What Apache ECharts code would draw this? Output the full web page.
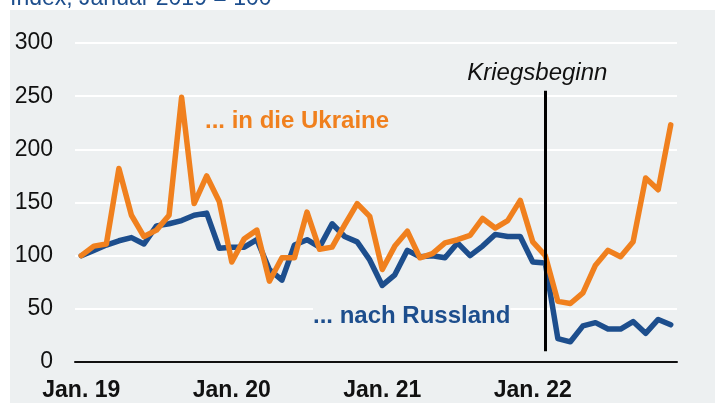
<!DOCTYPE html>
<html>
<head>
<meta charset="utf-8">
<script src="https://cdn.jsdelivr.net/npm/echarts@6/dist/echarts.min.js"></script>
<style>
html,body{margin:0;padding:0;background:#ffffff;}
#chart{width:715px;height:403px;}
</style>
</head>
<body>
<div id="chart"></div>
<script>
const months = [
  '2019-01','2019-02','2019-03','2019-04','2019-05','2019-06','2019-07','2019-08','2019-09','2019-10','2019-11','2019-12',
  '2020-01','2020-02','2020-03','2020-04','2020-05','2020-06','2020-07','2020-08','2020-09','2020-10','2020-11','2020-12',
  '2021-01','2021-02','2021-03','2021-04','2021-05','2021-06','2021-07','2021-08','2021-09','2021-10','2021-11','2021-12',
  '2022-01','2022-02','2022-03','2022-04','2022-05','2022-06','2022-07','2022-08','2022-09','2022-10','2022-11','2022-12'
];
const tickLabels = {'2019-01':'Jan. 19','2020-01':'Jan. 20','2021-01':'Jan. 21','2022-01':'Jan. 22'};
const ukraine = [100,109,111,182,138,118,124,138,249,149,175,151,
  94,116,124,76,98,98,141,106,108,129,149,137,
  87,109,123,98,102,112,115,119,135,126,133,152,
  113,100,57,55,65,91,105,99,113,173,162,223];
const russland = [100,105,110,114,117,111,128,130,133,138,140,107,
  108,108,115,87,77,110,115,108,130,118,113,96,
  72,82,105,99,100,98,112,100,109,120,118,118,
  94,93,22,19,34,37,31,31,38,27,40,35];
const yTicks = [0,50,100,150,200,250,300];
const warMonth = '2022-02';
const warLineRange = [10, 255];
const titleText = 'Index, Januar 2019 = 100';
const labelUkraine = '... in die Ukraine';
const labelRussland = '... nach Russland';
const warLabel = 'Kriegsbeginn';

const FONT = 'Liberation Sans, Arial, sans-serif';
const ORANGE = '#f0801e';
const BLUE = '#1d4e8d';
const BG = '#edf0f1';

const chart = echarts.init(document.getElementById('chart'));
chart.setOption({
  animation: false,
  backgroundColor: '#ffffff',
  textStyle: {fontFamily: FONT},
  graphic: [
    {type:'rect', z:-100, shape:{x:10,y:10,width:705,height:393}, style:{fill:BG}},
    {type:'text', left:10, top:-13, style:{text:titleText, fill:BLUE, font:'23px ' + FONT}},
    {type:'text', left:205, top:109, z:50, style:{text:labelUkraine, fill:ORANGE, font:'bold 24px ' + FONT}},
    {type:'text', left:313, top:303, z:50, style:{text:labelRussland, fill:BLUE, font:'bold 24px ' + FONT, backgroundColor:BG, padding:[1,0,0,0]}}
  ],
  grid: {left:75, right:38, top:43, bottom:41, containLabel:false},
  xAxis: {
    type:'category',
    data: months,
    boundaryGap: true,
    axisLine: {show:true, onZero:true, lineStyle:{color:'#111111', width:2}},
    axisTick: {show:false},
    splitLine: {show:false},
    axisLabel: {
      interval: 0,
      formatter: v => tickLabels[v] || '',
      color:'#111111', fontWeight:'bold', fontSize:23, fontFamily:FONT, margin:17
    }
  },
  yAxis: {
    type:'value', min:yTicks[0], max:yTicks[yTicks.length-1], interval:50,
    axisLine:{show:false}, axisTick:{show:false},
    axisLabel:{color:'#111111', fontSize:23, fontFamily:FONT, margin:22},
    splitLine:{show:true, lineStyle:{color:'#ffffff', width:2}}
  },
  series: [
    {
      type:'line', name:'Russland', data:russland, symbol:'none',
      lineStyle:{color:BLUE, width:5.5, cap:'round', join:'round'}, z:3,
      markLine: {
        silent:true, symbol:['none','none'],
        lineStyle:{color:'#000000', width:3, type:'solid'},
        label:{show:true, position:'end', formatter:warLabel, color:'#111111', fontSize:24, fontStyle:'italic', fontFamily:FONT, distance:6, padding:[0,16,0,0]},
        data:[[{coord:[warMonth, warLineRange[0]]},{coord:[warMonth, warLineRange[1]]}]]
      }
    },
    {
      type:'line', name:'Ukraine', data:ukraine, symbol:'none',
      lineStyle:{color:ORANGE, width:5.5, cap:'round', join:'round'}, z:4
    }
  ]
});
</script>
</body>
</html>
